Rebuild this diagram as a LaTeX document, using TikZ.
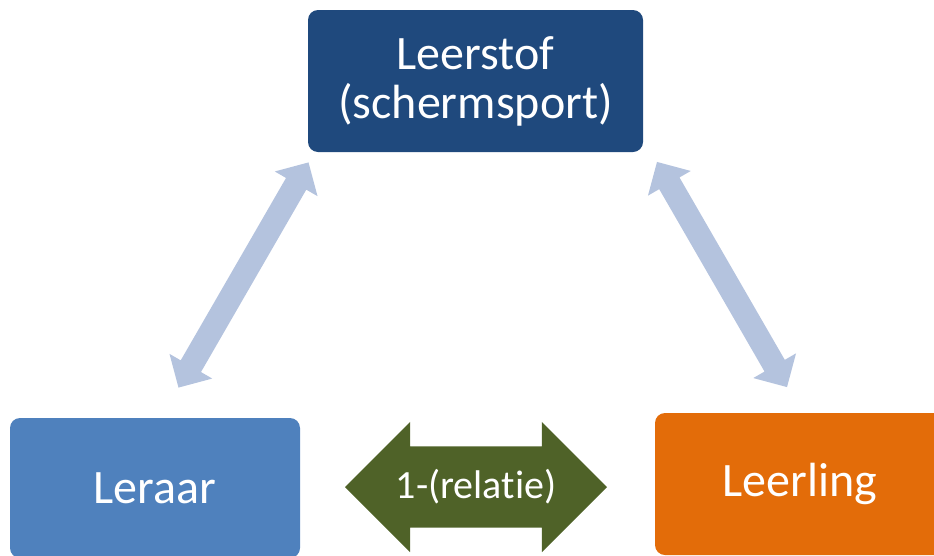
\documentclass[tikz,border=0pt]{standalone}
\usepackage{fontspec}
\setmainfont{Carlito}[Ligatures=NoCommon]
\usepackage{xcolor}
\definecolor{StofBlue}{HTML}{1F497D}
\definecolor{LeraarBlue}{HTML}{4F81BD}
\definecolor{LeerlingOrange}{HTML}{E36C09}
\definecolor{LinkBlue}{HTML}{B4C3DE}
\definecolor{RelGreen}{HTML}{4F6228}
\usetikzlibrary{shapes.arrows}

\begin{document}
\begin{tikzpicture}[
        x=1pt, y=-1pt,
        font=\fontsize{48}{49}\selectfont,
        % Styles
        box/.style={rectangle, rounded corners=10pt, text=white, align=center, inner sep=0pt},
        fatlink/.style={double arrow, fill=LinkBlue, draw=none, inner xsep=0pt, inner ysep=11.5pt,
            double arrow tip angle=90, double arrow head extend=13pt, minimum height=260pt},
        rel_arrow/.style={double arrow, fill=RelGreen, draw=none, inner xsep=0pt, inner ysep=40.5pt,
            double arrow tip angle=90, double arrow head extend=24.5pt, minimum height=262pt}
    ]
    \clip (0,0) rectangle (934,555);

    % 1. THE THREE CORNERS
    \node[box, fill=StofBlue, minimum width=335pt, minimum height=142pt] (stof) at (475.5,81) {Leerstof\\(schermsport)};
    \node[box, fill=LeraarBlue, minimum width=290pt, minimum height=140pt] (leraar) at (155,488) {Leraar};
    \node[box, fill=LeerlingOrange, minimum width=290pt, minimum height=142pt] (leerling) at (800,484) {Leerling};

    % 2. LINKS TO THE SUBJECT MATTER
    \node[fatlink, rotate=60] (links) at (243.5,275) {};
    \node[fatlink, rotate=120] (rechts) at (722,274.5) {};

    % 3. THE RELATION
    \node[rel_arrow] (relatie) at (476,487) {};
    \node[text=white, font=\fontsize{40}{42}\selectfont] (relatietekst) at (relatie.center) {1-(relatie)};
\end{tikzpicture}
\end{document}
